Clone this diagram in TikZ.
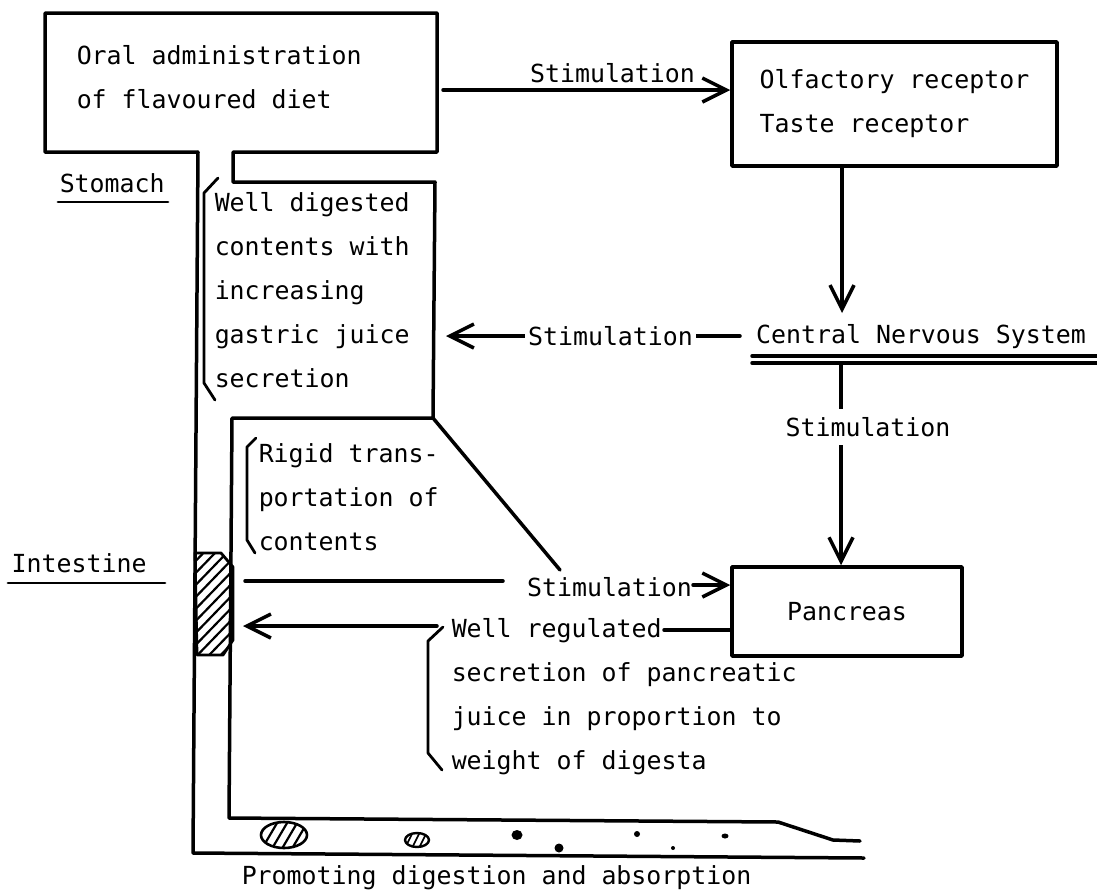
\documentclass[tikz,border=0pt]{standalone}
\usepackage{fontspec}
\setmainfont{DejaVu Sans Mono}
\usetikzlibrary{arrows.meta,calc}
\begin{document}
\begin{tikzpicture}[x=1pt,y=-1pt,
  line width=3.5pt, line cap=round, line join=round,
  arr/.style={-{Straight Barb[length=24pt,width=24pt]}},
  txt/.style={inner sep=0pt, font=\fontsize{24.9}{44}\selectfont, align=left},
  lbl/.style={txt, anchor=west},
  gap/.style={txt, fill=white, inner xsep=3pt, inner ysep=8pt},
  boxn/.style={draw, line width=3.5pt, txt},
  brk/.style={line width=2.8pt},
  uline/.style={line width=2.8pt},
  hatch/.style={line width=2.2pt}
]
\useasboundingbox (0,0) rectangle (1097,895);

% ---------- organ outline (mouth box, stomach, intestine) ----------
\node[minimum width=392pt, minimum height=139pt, inner sep=0pt] (oral) at (241,82.5) {};
\draw (198,152) -- (45,152) -- (45,13) -- (437,13) -- (437,152) -- (233,152)
      -- (233,182) -- (435,182) -- (433,418) -- (232,418) -- (229,818)
      -- (778,822) -- (833,840) -- (860,841);
\draw (198,152) -- (193,853) -- (864,858);
\draw (433,418) -- (560,570);

% hatched patch on the intestine wall
\begin{scope}
  \clip (195,553) -- (221,553) -- (233,567) -- (233,640) -- (223,655) -- (197,655) -- cycle;
  \foreach \k in {-5,...,14} {\draw[hatch] (185,560+12*\k) -- (245,560+12*\k-62);}
\end{scope}
\draw[line width=2.8pt] (195,553) -- (221,553) -- (233,567) -- (233,640) -- (223,655) -- (197,655) -- cycle;

% contents in the lower tube
\begin{scope}
  \clip (284,835) ellipse [x radius=23, y radius=13];
  \foreach \k in {0,...,6} {\draw[hatch] (250+10*\k,852) -- (270+10*\k,818);}
\end{scope}
\draw[line width=2.6pt] (284,835) ellipse [x radius=23, y radius=13];
\begin{scope}
  \clip (417,840) ellipse [x radius=12, y radius=7];
  \foreach \k in {0,...,3} {\draw[line width=1.6pt] (404+7*\k,850) -- (414+7*\k,830);}
\end{scope}
\draw[line width=2.4pt] (417,840) ellipse [x radius=12, y radius=7];
\fill (517,835) ellipse [x radius=5.5, y radius=5];
\fill (559,848) circle [radius=4.5];
\fill (637,834) circle [radius=3];
\fill (673,848) circle [radius=2];
\fill (725,836) ellipse [x radius=3.5, y radius=2.5];

% ---------- texts ----------
\node[lbl] (oraltxt) at (75,77.5) {Oral administration\\of flavoured diet};
\node[lbl] (stomach) at (58,183) {Stomach};
\draw[uline] (58,202) -- (168,202);
\node[lbl] (intestine) at (10,563) {Intestine};
\draw[uline] (8,583) -- (165,583);

\node[lbl] (wd) at (213,290) {Well digested\\contents with\\increasing\\gastric juice\\secretion};
\draw[brk] (218,178) -- (204,193) -- (204,383) -- (215,400);

\node[lbl] (rt) at (257,497) {Rigid trans-\\portation of\\contents};
\draw[brk] (256,438) -- (247,447) -- (247,540) -- (255,553);

\node[lbl] (wr) at (450,697) {Well regulated\\secretion of pancreatic\\juice in proportion to\\weight of digesta};
\draw[brk] (443,627) -- (428,641) -- (428,753) -- (442,770);

\node[lbl] (promo) at (240,878) {Promoting digestion and absorption};

% ---------- boxes ----------
\node[boxn, minimum width=325pt, minimum height=124pt] (olf) at (894.5,104) {Olfactory receptor\\Taste receptor};
\node[boxn, minimum width=230pt, minimum height=89pt] (pan) at (847,611.5) {Pancreas};
\node[txt] (cns) at (921,337) {Central Nervous System};
\draw (752,356) -- (1097,356);
\draw (752,363) -- (1097,363);

% ---------- connectors ----------
% mouth -> receptors
\coordinate (t1) at (443,90);
\draw[arr] (t1) -- (t1 -| olf.west);
\node[txt] (st1) at (612.5,73) {Stimulation};

% receptors -> CNS
\coordinate (c1) at (842,313);
\draw[arr] (c1 |- olf.south) -- (c1);

% CNS -> stomach
\coordinate (c2a) at (740,336);
\coordinate (c2b) at (446,336);
\draw[arr] (c2a) -- (c2b);
\node[gap] (st2) at (610.5,336) {Stimulation};

% CNS -> pancreas
\coordinate (c3) at (841,363);
\draw[arr] (c3) -- (c3 |- pan.north);
\node[gap] (st3) at (868,427) {Stimulation};

% intestine -> pancreas
\coordinate (p0) at (245,581);
\coordinate (p0e) at (503,581);
\draw (p0) -- (p0e);
\coordinate (p1) at (693,585);
\draw[arr] (p1) -- (p1 -| pan.west);
\node[txt] (st4) at (609.5,587) {Stimulation};

% pancreas -> intestine
\coordinate (p2) at (664,630);
\draw (p2 -| pan.west) -- (p2);
\coordinate (p3) at (437,626);
\coordinate (p4) at (243,626);
\draw[arr] (p3) -- (p4);
\end{tikzpicture}
\end{document}
